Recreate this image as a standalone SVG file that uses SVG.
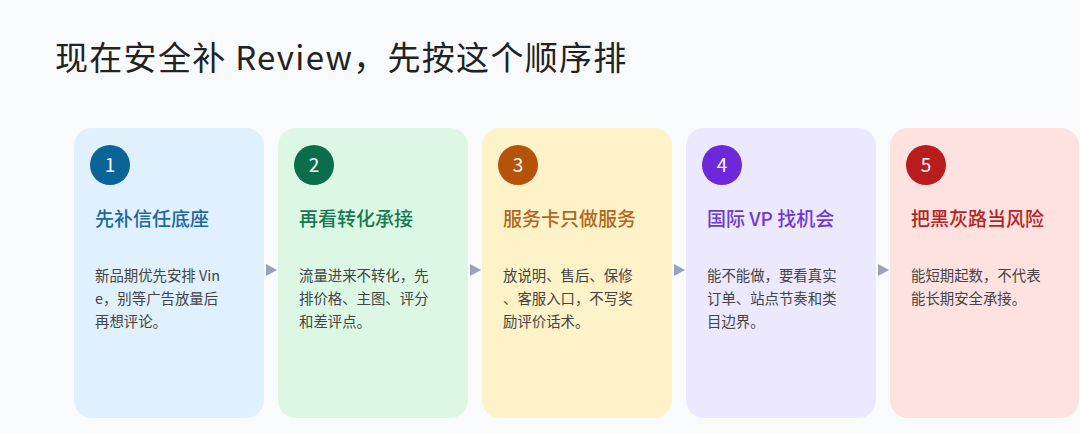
<svg xmlns="http://www.w3.org/2000/svg" width="1080" height="434" viewBox="0 0 1080 434">
<style>
text{font-family:"Noto Sans CJK SC","Noto Sans",sans-serif}
.h{font-size:33px;fill:#222;letter-spacing:1.3px}
.n{font-size:19px;fill:#fff}
.t{font-size:19px;font-weight:500}
.b{font-size:14.4px;fill:#444}
.a{fill:#9aa3b5}
</style>
<rect width="1080" height="434" fill="#f8fafc"/>
<text class="h" x="55" y="70">现在安全补 Review，先按这个顺序排</text>
<g id="node1"><rect x="74" y="128" width="190" height="290" rx="18" fill="#e0f0fd"/><circle cx="110" cy="165" r="20" fill="#0b6497"/><text class="n" x="110" y="172" text-anchor="middle">1</text><text class="t" x="95" y="226" fill="#1a6a9a">先补信任底座</text><text class="b" x="95" y="281">新品期优先安排 Vin</text><text class="b" x="95" y="304">e，别等广告放量后</text><text class="b" x="95" y="327">再想评论。</text></g>
<g id="node2"><rect x="278" y="128" width="190" height="290" rx="18" fill="#dcf8e5"/><circle cx="314" cy="165" r="20" fill="#0b6e4a"/><text class="n" x="314" y="172" text-anchor="middle">2</text><text class="t" x="299" y="226" fill="#167a50">再看转化承接</text><text class="b" x="299" y="281">流量进来不转化，先</text><text class="b" x="299" y="304">排价格、主图、评分</text><text class="b" x="299" y="327">和差评点。</text></g>
<g id="node3"><rect x="482" y="128" width="190" height="290" rx="18" fill="#fdf2c8"/><circle cx="518" cy="165" r="20" fill="#b45309"/><text class="n" x="518" y="172" text-anchor="middle">3</text><text class="t" x="503" y="226" fill="#b5651d">服务卡只做服务</text><text class="b" x="503" y="281">放说明、售后、保修</text><text class="b" x="503" y="304">、客服入口，不写奖</text><text class="b" x="503" y="327">励评价话术。</text></g>
<g id="node4"><rect x="686" y="128" width="190" height="290" rx="18" fill="#ece8fd"/><circle cx="722" cy="165" r="20" fill="#6d28d9"/><text class="n" x="722" y="172" text-anchor="middle">4</text><text class="t" x="707" y="226" fill="#6d3bd0">国际 VP 找机会</text><text class="b" x="707" y="281">能不能做，要看真实</text><text class="b" x="707" y="304">订单、站点节奏和类</text><text class="b" x="707" y="327">目边界。</text></g>
<g id="node5"><rect x="890" y="128" width="189" height="290" rx="18" fill="#fde2e0"/><circle cx="926" cy="165" r="20" fill="#b91c1c"/><text class="n" x="926" y="172" text-anchor="middle">5</text><text class="t" x="911" y="226" fill="#b42525">把黑灰路当风险</text><text class="b" x="911" y="281">能短期起数，不代表</text><text class="b" x="911" y="304">能长期安全承接。</text></g>
<g id="connectors">
<polygon class="a" points="266,264 277,270 266,276"/>
<polygon class="a" points="470,264 481,270 470,276"/>
<polygon class="a" points="674,264 685,270 674,276"/>
<polygon class="a" points="878,264 889,270 878,276"/>
</g>
</svg>
